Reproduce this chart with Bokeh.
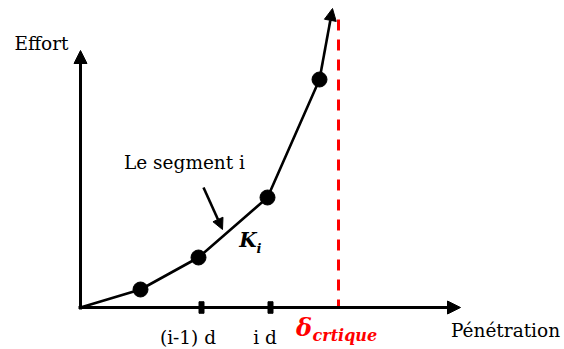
from bokeh.plotting import figure
from bokeh.models import Range1d, Arrow, NormalHead
from bokeh.core.properties import value
from bokeh.embed import file_html
from bokeh.resources import INLINE

# ---- data (diagram units) ----
penetration = [0.0, 6.0, 11.8, 18.7, 23.9]
effort = [0.0, 1.8, 5.0, 11.0, 22.8]
curve_end = [25.2, 29.9]          # arrow tip continuing the curve
tick_positions = [12.1, 19.0]
tick_labels = ["(i-1) d", "i d"]
critical_penetration = 25.8
x_axis_end = 38.0
y_axis_end = 25.7

FONT = "DejaVu Serif"
BLACK = "#000000"
RED = "#ff0000"

p = figure(width=564, height=349, output_backend="svg", toolbar_location=None,
           x_range=Range1d(-8.0, 48.4), y_range=Range1d(-4.2, 30.7),
           min_border=0)
p.axis.visible = False
p.grid.visible = False
p.outline_line_color = None
p.background_fill_color = "white"
p.border_fill_color = "white"

# axes as arrows
p.add_layout(Arrow(end=NormalHead(size=13, fill_color=BLACK, line_color=BLACK),
                   x_start=-0.2, y_start=0, x_end=x_axis_end, y_end=0,
                   line_width=3, line_color=BLACK))
p.add_layout(Arrow(end=NormalHead(size=13, fill_color=BLACK, line_color=BLACK),
                   x_start=0, y_start=-0.2, x_end=0, y_end=y_axis_end,
                   line_width=3, line_color=BLACK))

# critical dashed line
p.line([critical_penetration, critical_penetration], [28.8, 0.1],
       line_color=RED, line_width=3, line_dash="11 9")

# curve
p.line(penetration, effort, line_color=BLACK, line_width=2.6)
p.add_layout(Arrow(end=NormalHead(size=12, fill_color=BLACK, line_color=BLACK),
                   x_start=penetration[-1], y_start=effort[-1],
                   x_end=curve_end[0], y_end=curve_end[1],
                   line_width=2.6, line_color=BLACK))
p.scatter(penetration[1:], effort[1:], size=15, color=BLACK)

# ticks on x axis
p.rect(tick_positions, [0] * len(tick_positions), width=0.5, height=1.15,
       color=BLACK)

# pointer arrow to segment i
p.add_layout(Arrow(end=NormalHead(size=11, fill_color=BLACK, line_color=BLACK),
                   x_start=12.3, y_start=12.0, x_end=14.2, y_end=7.8,
                   line_width=2.6, line_color=BLACK))

def txt(x, y, s, size, color=BLACK, style="normal", align="center"):
    p.text([x], [y], text=[s], text_font=value(FONT), text_font_size=f"{size}px",
           text_font_style=style, text_color=color, text_align=align,
           text_baseline="middle")

txt(-3.9, 26.4, "Effort", 18.5)
txt(10.4, 14.5, "Le segment i", 18.5)
txt(42.5, -2.3, "Pénétration", 18.5)
txt(10.75, -3.0, tick_labels[0], 18.5)
txt(18.45, -3.0, tick_labels[1], 18.5)
txt(16.75, 6.75, "K", 20, style="bold italic")
txt(17.85, 5.95, "i", 13, style="bold italic")
txt(22.35, -2.0, "δ", 24, color=RED, style="bold italic")
txt(23.2, -2.8, "crtique", 16, color=RED, style="bold italic", align="left")

open("out.html", "w").write(file_html(p, INLINE))
